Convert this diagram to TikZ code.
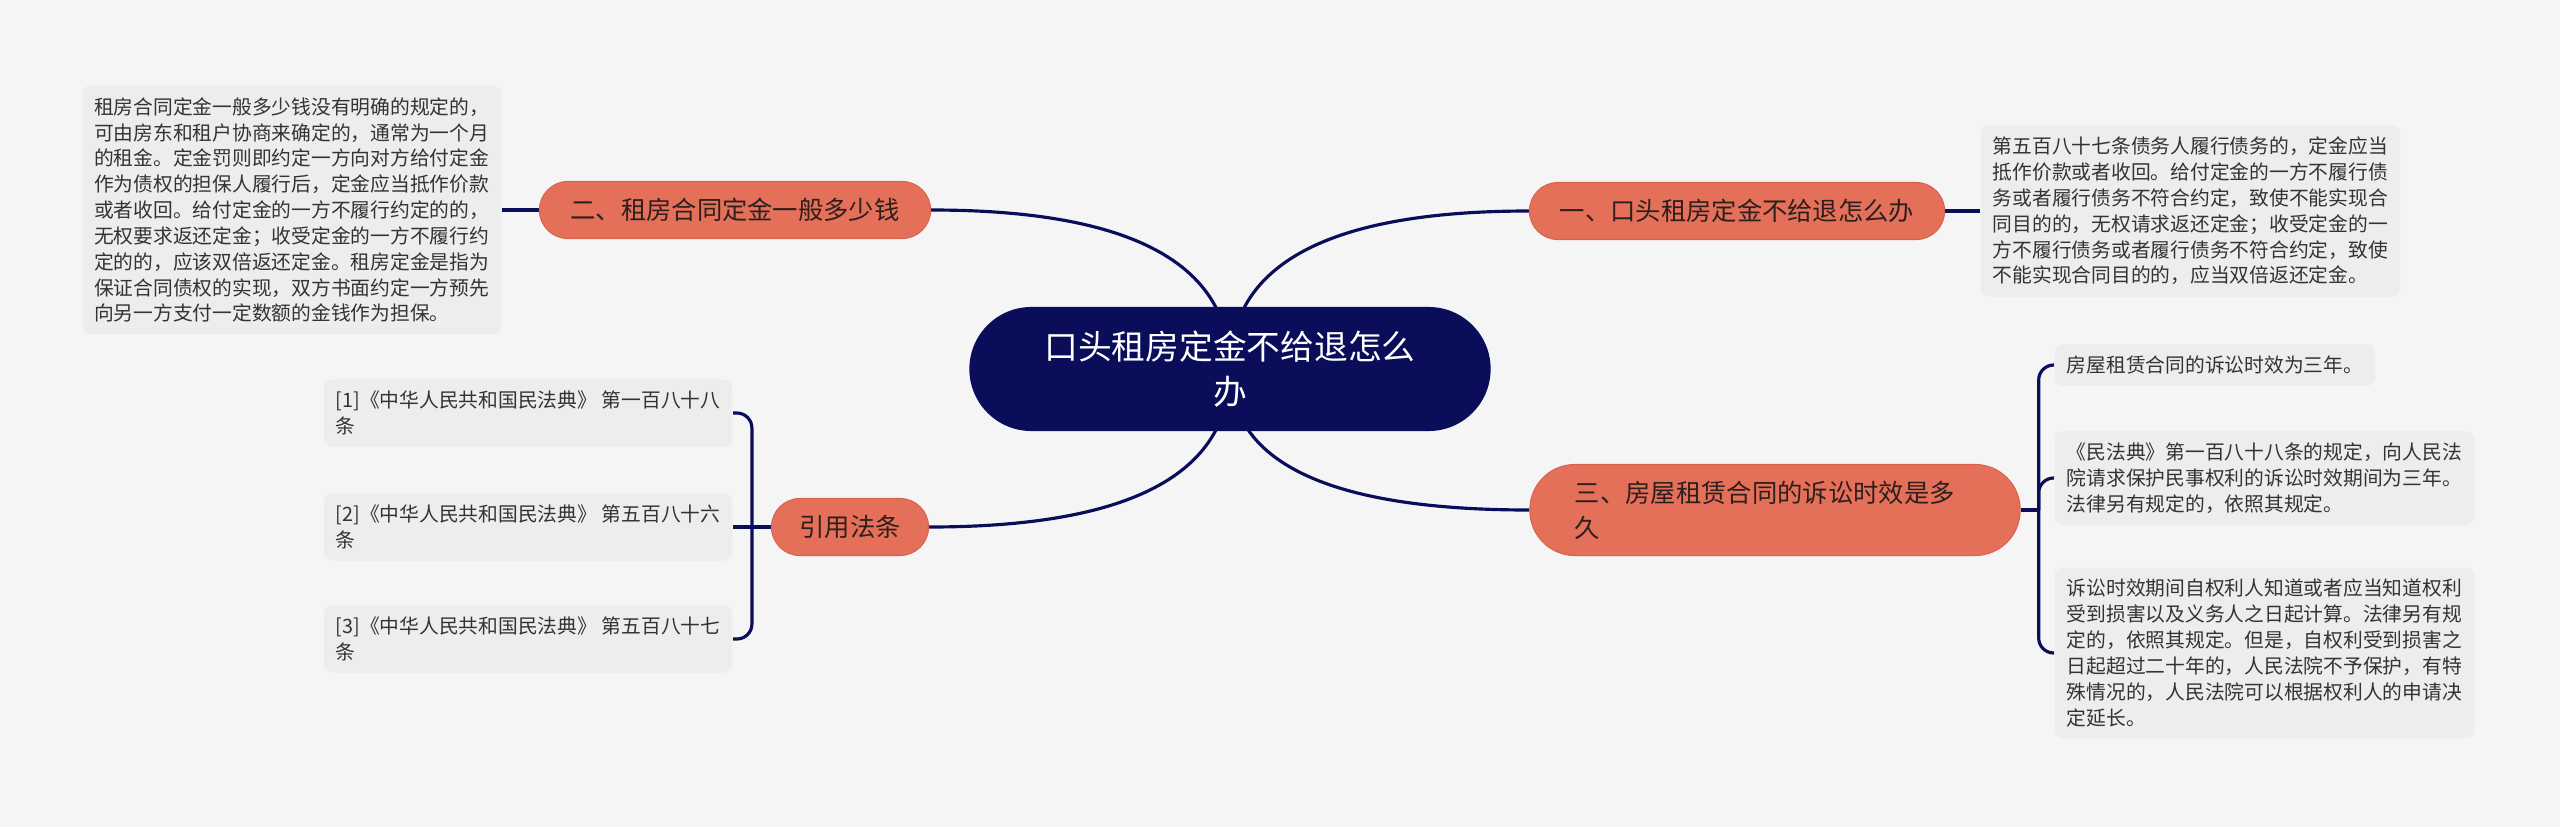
\documentclass[tikz,border=0pt]{standalone}
\usepackage{fontspec}
\setmainfont{Noto Sans CJK SC}
\XeTeXlinebreaklocale "zh"
\usetikzlibrary{calc,backgrounds}

\definecolor{bgcol}{HTML}{F5F5F5}
\definecolor{leafcol}{HTML}{EDEDED}
\definecolor{rootcol}{HTML}{0A0E5A}
\definecolor{branchcol}{HTML}{E4705A}
\definecolor{branchedge}{HTML}{D9634E}
\definecolor{linecol}{HTML}{0A0E5A}
\definecolor{branchtext}{HTML}{2E1F1C}
\definecolor{leaftext}{HTML}{333333}

\begin{document}
\begin{tikzpicture}[
    x=0.01cm, y=-0.01cm,
    conn/.style={draw=linecol, line width=0.9pt},
    bracket/.style={conn, rounded corners=0.15cm},
    rootbox/.style={fill=rootcol, rounded corners=0.62cm, minimum width=5.21cm, minimum height=1.24cm,
        text=white, font=\fontsize{9.6}{13}\selectfont, align=center, inner sep=0pt},
    branchbox/.style={fill=branchcol, draw=branchedge, line width=0.3pt, rounded corners=0.285cm,
        minimum height=0.57cm, text=branchtext, font=\fontsize{7.2}{9.9}\selectfont, inner sep=0pt},
    leafbox/.style={fill=leafcol, rounded corners=0.08cm, text=leaftext, font=\fontsize{5.62}{7.35}\selectfont,
        align=left, inner xsep=0.12cm, inner ysep=0.115cm}
]

\useasboundingbox (0,0) rectangle (2560,827);

% -------------------------------------------------
% ROOT
% -------------------------------------------------
\node[rootbox] (root) at (1230,369) {口头租房定金不给退怎么\\办};

% -------------------------------------------------
% BRANCHES
% -------------------------------------------------
\node[branchbox, minimum width=4.15cm] (b1) at (1737,211) {一、口头租房定金不给退怎么办};
\node[branchbox, minimum width=3.91cm] (b2) at (735,210) {二、租房合同定金一般多少钱};
\node[branchbox, minimum width=4.90cm, minimum height=0.91cm, rounded corners=0.45cm,
    text width=4.0cm, align=left] (b3) at (1775,510) {三、房屋租赁合同的诉讼时效是多\\久};
\node[branchbox, minimum width=1.57cm] (b4) at (850,527) {引用法条};

% -------------------------------------------------
% LEAVES
% -------------------------------------------------
\node[leafbox, anchor=east] (L2) at (502,210) {租房合同定金一般多少钱没有明确的规定的，\\
可由房东和租户协商来确定的，通常为一个月\\
的租金。定金罚则即约定一方向对方给付定金\\
作为债权的担保人履行后，定金应当抵作价款\\
或者收回。给付定金的一方不履行约定的的，\\
无权要求返还定金；收受定金的一方不履行约\\
定的的，应该双倍返还定金。租房定金是指为\\
保证合同债权的实现，双方书面约定一方预先\\
向另一方支付一定数额的金钱作为担保。};

\node[leafbox, anchor=west] (R1) at (1980,211) {第五百八十七条债务人履行债务的，定金应当\\
抵作价款或者收回。给付定金的一方不履行债\\
务或者履行债务不符合约定，致使不能实现合\\
同目的的，无权请求返还定金；收受定金的一\\
方不履行债务或者履行债务不符合约定，致使\\
不能实现合同目的的，应当双倍返还定金。};

\node[leafbox, anchor=west] (R3a) at (2054,365) {房屋租赁合同的诉讼时效为三年。};
\node[leafbox, anchor=west] (R3b) at (2054,478) {《民法典》第一百八十八条的规定，向人民法\\
院请求保护民事权利的诉讼时效期间为三年。\\
法律另有规定的，依照其规定。};
\node[leafbox, anchor=west] (R3c) at (2054,653) {诉讼时效期间自权利人知道或者应当知道权利\\
受到损害以及义务人之日起计算。法律另有规\\
定的，依照其规定。但是，自权利受到损害之\\
日起超过二十年的，人民法院不予保护，有特\\
殊情况的，人民法院可以根据权利人的申请决\\
定延长。};

\node[leafbox, anchor=east] (L4a) at (733,413) {[1]《中华人民共和国民法典》 第一百八十八\\条};
\node[leafbox, anchor=east] (L4b) at (733,527) {[2]《中华人民共和国民法典》 第五百八十六\\条};
\node[leafbox, anchor=east] (L4c) at (733,639) {[3]《中华人民共和国民法典》 第五百八十七\\条};

% -------------------------------------------------
% CONNECTORS (behind the nodes)
% -------------------------------------------------
\begin{scope}[on background layer]
\fill[bgcol] (0,0) rectangle (2560,827);

% root to branches
\draw[conn] (root.center) .. controls ($(root.center)!0.667!(root.center |- b1.west)$)
    and ($(b1.west)!0.667!(root.center |- b1.west)$) .. (b1.west);
\draw[conn] (root.center) .. controls ($(root.center)!0.667!(root.center |- b2.east)$)
    and ($(b2.east)!0.667!(root.center |- b2.east)$) .. (b2.east);
\draw[conn] (root.center) .. controls ($(root.center)!0.667!(root.center |- b3.west)$)
    and ($(b3.west)!0.667!(root.center |- b3.west)$) .. (b3.west);
\draw[conn] (root.center) .. controls ($(root.center)!0.667!(root.center |- b4.east)$)
    and ($(b4.east)!0.667!(root.center |- b4.east)$) .. (b4.east);

% branches to leaves
\draw[conn] (b1.east) -- (R1.west);
\draw[conn] (b2.west) -- (L2.east);

\coordinate (k3) at ($(b3.east)+(18,0)$);
\draw[conn] (b3.east) -- (k3);
\draw[bracket] (k3) |- (R3a.west);
\draw[bracket] (k3) |- (R3b.west);
\draw[bracket] (k3) |- (R3c.west);

\coordinate (k4) at ($(b4.west)+(-19,0)$);
\draw[conn] (b4.west) -- (k4);
\draw[bracket] (k4) |- (L4a.east);
\draw[conn] (k4) -- (L4b.east);
\draw[bracket] (k4) |- (L4c.east);
\end{scope}

\end{tikzpicture}
\end{document}
